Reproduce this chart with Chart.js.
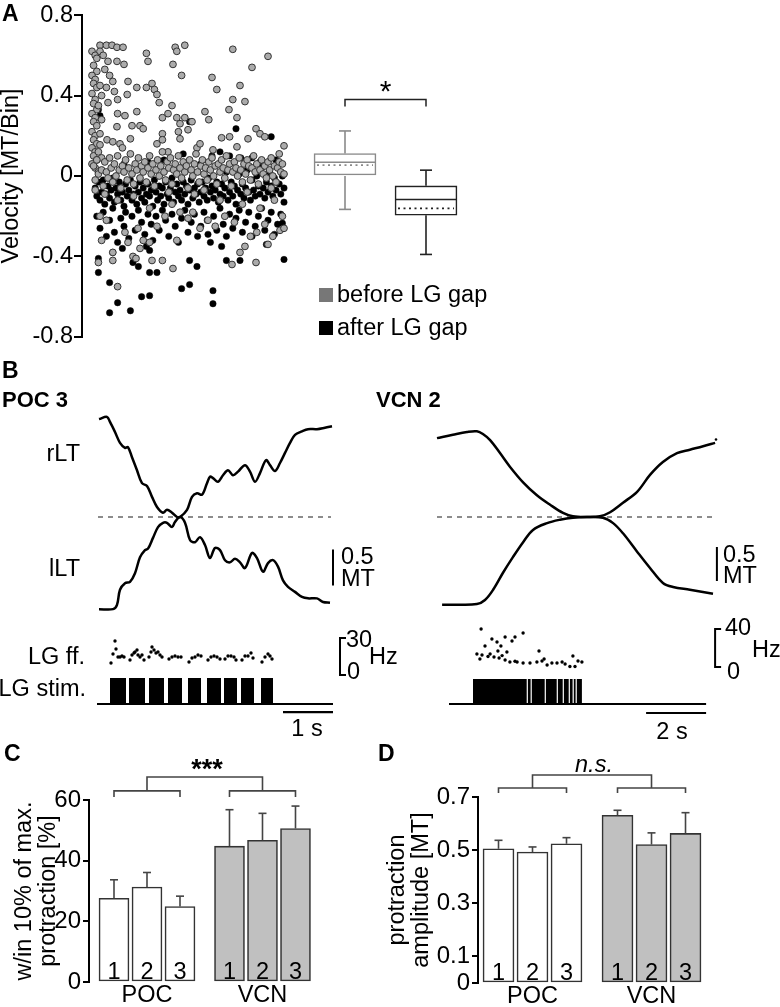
<!DOCTYPE html>
<html><head><meta charset="utf-8">
<script src="https://cdn.jsdelivr.net/npm/chart.js@4.4.1/dist/chart.umd.min.js"></script>
<style>
html,body{margin:0;padding:0;background:#fff;}
#wrap{position:relative;width:780px;height:1007px;overflow:hidden;font-family:"Liberation Sans",Arial,Helvetica,sans-serif;color:#000;background:#fff;}
canvas{position:absolute;}
.t{position:absolute;line-height:1;white-space:nowrap;font-size:23.5px;}
.sq{position:absolute;width:14px;height:14px;}
</style></head><body><div id="wrap">
<canvas id="cA" width="780" height="352" style="left:0px;top:0px"></canvas>
<canvas id="cBL" width="390" height="340" style="left:0px;top:395px"></canvas>
<canvas id="cBR" width="390" height="340" style="left:390px;top:395px"></canvas>
<canvas id="cC" width="380" height="267" style="left:0px;top:740px"></canvas>
<canvas id="cD" width="402" height="267" style="left:378px;top:740px"></canvas>
</div>
<script>
// ================= DATA =================
// Panel A: velocity per bin [bin, MT/Bin]
const legendLabels = ['before LG gap', 'after LG gap'];
const velocityTicks = [-0.8, -0.4, 0, 0.4, 0.8];
const beforeGap = [
[0,0.62],[2,0.60],[1,0.55],[3,0.52],[0,0.50],[2,0.48],[1,0.46],[3,0.44],[0,0.41],[2,0.38],[1,0.36],[3,0.33],[0,0.31],[2,0.29],[1,0.27],[3,0.25],[0,0.22],[2,0.20],[1,0.18],[3,0.16],[0,0.14],[2,0.12],[1,0.10],[3,0.08],[0,0.06],[2,0.04],[4,0.02],[5,0.45],[6,0.40],[4,0.35],[6,0.28],[5,0.21],[4,0.12],[6,0.09],
[5,0.65],[9,0.65],[12.5,0.65],[15.6,0.64],[19.4,0.64],[5,0.62],[3,0.585],[10,0.57],[15.6,0.57],[20,0.555],[7,0.60],[8,0.53],[11,0.50],[13,0.47],[9,0.44],[14,0.42],
[34,0.61],[35,0.57],[52,0.64],[53,0.62],[58,0.65],[50.6,0.555],[56,0.50],[88,0.63],[110,0.595],[100,0.54],[75,0.49],[92.5,0.45],[78,0.43],[88,0.38],[95.6,0.37],[85.6,0.33],[70.6,0.32],[73,0.28],[90.6,0.29],[102.5,0.235],[105,0.21],[108,0.195],[120,0.15],[117,0.11],[97.5,0.185],[86,0.195],[81,0.19],[75.6,0.13],[90.6,0.145],
[22.5,0.47],[28,0.44],[34,0.44],[37.5,0.46],[39,0.43],[40.6,0.405],[42,0.365],[50,0.35],[44,0.29],[47.5,0.31],[53,0.29],[58,0.29],[55,0.26],[62.5,0.27],[54,0.22],[55,0.185],[60,0.23],[44,0.21],[22,0.405],[16,0.38],[10,0.365],[16,0.31],[20.6,0.30],[28,0.32],[30,0.25],[25,0.25],[32,0.235],[24,0.185],[15.6,0.245],[9.4,0.18],[13,0.17],[17.5,0.16],[19,0.14],[5,0.155],[40.6,0.16],[47.5,0.12],[44,0.18],[65.6,0.14],[67.5,0.16],
[1,0.05],[2,-0.02],[3,0.08],[4,0.01],[6,0.03],[7,-0.05],[8,0.07],[9,0.02],[10,-0.01],[11,0.09],[12,0.04],[13,-0.03],[14,0.06],[15,0.00],[16,0.10],[17,0.03],[18,-0.06],[19,0.05],[20,0.02],[21,0.08],[22,-0.02],[23,0.04],[24,0.11],[25,0.01],[26,-0.04],[27,0.06],[28,0.03],[29,0.09],[30,-0.01],[31,0.05],[32,0.02],[33,0.07],[34,-0.03],[35,0.04],[36,0.10],[37,0.01],[38,0.06],[39,-0.05],[40,0.03],[41,0.08],[42,0.00],[43,0.05],[44,0.12],[45,0.02],[46,-0.02],[47,0.07],[48,0.04],[49,0.09],[50,-0.04],[51,0.03],[52,0.06],[53,0.01],[54,0.10],[55,0.04],[56,-0.01],[57,0.07],[58,0.02],[59,0.05],[60,-0.06],[61,0.08],[62,0.03],[63,0.00],[64,0.06],[65,0.11],[66,0.02],[67,-0.03],[68,0.05],[69,0.08],[70,0.01],[71,0.04],[72,-0.02],[73,0.07],[74,0.03],[75,0.09],[76,0.00],[77,0.05],[78,-0.04],[79,0.06],[80,0.02],[81,0.08],[82,0.04],[83,-0.01],[84,0.10],[85,0.03],[86,0.06],[87,-0.05],[88,0.02],[89,0.07],[90,0.04],[91,0.00],[92,0.09],[93,0.03],[94,-0.03],[95,0.06],[96,0.01],[97,0.08],[98,0.05],[99,-0.02],[100,0.04],[101,0.10],[102,0.02],[103,0.06],[104,-0.04],[105,0.03],[106,0.08],[107,0.01],[108,0.05],[109,-0.01],[110,0.07],[111,0.03],[112,0.09],[113,0.00],[114,0.05],[115,-0.03],[116,0.04],[117,0.07],[118,0.02],[119,0.06],[120,0.01],
[4,-0.43],[13,-0.42],[16,-0.55],[25.6,-0.40],[27.5,-0.41],[32,-0.32],[36,-0.33],[37.5,-0.42],[44,-0.42],[50.6,-0.46],[53,-0.32],[63,-0.18],[87.5,-0.44],[92.5,-0.38],[95.6,-0.35],[102.5,-0.43],[110,-0.34],[113,-0.30],[117.5,-0.27],[120,-0.26],[103,-0.28],[5,-0.20],[9,-0.22],[16,-0.12],[20.6,-0.28],[28.75,-0.26],[36,-0.16],[40.6,-0.25],[45.6,-0.20],[50,-0.14],[55,-0.18],[60,-0.21],[64,-0.09],[67.5,-0.26],[72.5,-0.22],[77,-0.25],[80,-0.12],[83,-0.20],[89,-0.23],[94,-0.14],[99,-0.30],[105,-0.16],[108,-0.24],[114,-0.12],[119,-0.20],[13,-0.38],[22.5,-0.33],[30,-0.36],[6,-0.32],[2,-0.07],[8,-0.09],[26,-0.10],[48,-0.08],[70,-0.07],[97,-0.08],[112,-0.06]
];
const afterGap = [
[2,-0.06],[3,-0.10],[4,-0.03],[5,-0.12],[6,-0.08],[7,-0.02],[8,-0.14],[9,-0.09],[10,-0.05],[11,-0.11],[12,-0.07],[13,-0.01],[14,-0.13],[15,-0.06],[16,-0.09],[17,-0.03],[18,-0.12],[19,-0.08],[20,-0.15],[21,-0.04],[22,-0.10],[23,-0.07],[24,-0.02],[25,-0.12],[26,-0.09],[27,-0.05],[28,-0.14],[29,-0.08],[30,-0.03],[31,-0.11],[32,-0.06],[33,-0.13],[34,-0.09],[35,-0.04],[36,-0.10],[37,-0.07],[38,-0.15],[39,-0.02],[40,-0.08],[41,-0.12],[42,-0.05],[43,-0.10],[44,-0.06],[45,-0.14],[46,-0.03],[47,-0.09],[48,-0.11],[49,-0.06],[50,-0.01],[51,-0.13],[52,-0.08],[53,-0.04],[54,-0.10],[55,-0.07],[56,-0.12],[57,-0.03],[58,-0.09],[59,-0.05],[60,-0.14],[61,-0.07],[62,-0.02],[63,-0.11],[64,-0.06],[65,-0.09],[66,-0.04],[67,-0.13],[68,-0.08],[69,-0.03],[70,-0.10],[71,-0.06],[72,-0.12],[73,-0.01],[74,-0.08],[75,-0.05],[76,-0.11],[77,-0.07],[78,-0.03],[79,-0.13],[80,-0.09],[81,-0.04],[82,-0.10],[83,-0.06],[84,0.02],[85,-0.12],[86,-0.08],[87,-0.03],[88,-0.10],[89,-0.05],[90,-0.14],[91,-0.07],[92,0.01],[93,-0.09],[94,-0.04],[95,-0.11],[96,-0.06],[97,0.03],[98,-0.08],[99,-0.12],[100,-0.02],[101,-0.07],[102,-0.10],[103,0.00],[104,-0.05],[105,-0.09],[106,0.04],[107,-0.06],[108,-0.11],[109,-0.03],[110,-0.08],[111,0.02],[112,-0.05],[113,-0.10],[114,-0.01],[115,-0.07],[116,0.05],[117,-0.04],[118,-0.09],[119,0.00],[120,-0.06],
[3,-0.20],[5,-0.26],[7,-0.18],[9,-0.30],[11,-0.22],[13,-0.16],[14,-0.28],[16,-0.33],[18,-0.21],[20,-0.25],[21,-0.18],[23,-0.31],[25,-0.20],[27,-0.27],[29,-0.17],[31,-0.23],[33,-0.29],[35,-0.19],[37,-0.24],[38,-0.32],[40,-0.20],[42,-0.27],[44,-0.17],[46,-0.22],[48,-0.30],[50,-0.19],[52,-0.25],[54,-0.33],[56,-0.21],[58,-0.17],[60,-0.28],[62,-0.23],[64,-0.19],[66,-0.30],[68,-0.25],[70,-0.18],[72,-0.22],[74,-0.33],[76,-0.20],[78,-0.27],[80,-0.16],[82,-0.24],[84,-0.30],[86,-0.19],[88,-0.26],[90,-0.21],[92,-0.17],[94,-0.28],[96,-0.23],[98,-0.18],[100,-0.30],[102,-0.25],[104,-0.20],[106,-0.16],[108,-0.27],[110,-0.22],[112,-0.18],[114,-0.29],[116,-0.24],[118,-0.19],[120,-0.13],
[11,-0.68],[16,-0.63],[24,-0.67],[31,-0.60],[36,-0.595],[11,-0.53],[56,-0.56],[61,-0.54],[75.6,-0.57],[75.6,-0.635],[4,-0.48],[4,-0.41],[13,-0.38],[19,-0.36],[25.6,-0.43],[29,-0.45],[36,-0.48],[40.6,-0.48],[34,-0.35],[36,-0.37],[65.6,-0.45],[61,-0.42],[84,-0.42],[92.5,-0.42],[120,-0.415],[109,-0.34],[119,-0.235],[72.5,-0.29],[81,-0.35],
[4,0.33],[5,0.30],[61,0.27],[90,0.235],[112,0.195],[80,0.12],[86,0.10],[93,0.09],[57,0.11],[35,0.07],[20,0.06],[45,0.08],[100,0.09],[68,0.06],[75,0.10],[105,0.07],[115,0.08]
];
// Panel A box plots: before / after
const boxPos = [1, 2];
const boxLow = [-0.166, -0.39];
const boxQ1 = [0.0, -0.195];
const boxMedian = [0.068, -0.117];
const boxMean = [0.054, -0.161];
const boxQ3 = [0.112, -0.049];
const boxHigh = [0.224, 0.029];

// Panel B, POC 3 (time s, position MT relative to midline; LG ff in Hz)
const pocRLT = [[0.02,1.36],[0.18,1.39],[0.24,1.32],[0.34,1.18],[0.44,1.03],[0.54,0.96],[0.60,0.97],[0.68,0.83],[0.78,0.65],[0.88,0.47],[0.98,0.43],[1.08,0.28],[1.18,0.14],[1.30,0.06],[1.38,0.10],[1.48,0.06],[1.58,0.00],[1.64,0.00],[1.78,0.10],[1.88,0.28],[1.98,0.33],[2.08,0.31],[2.18,0.47],[2.24,0.56],[2.30,0.54],[2.40,0.49],[2.50,0.58],[2.60,0.65],[2.70,0.58],[2.80,0.63],[2.94,0.72],[3.04,0.63],[3.14,0.49],[3.24,0.61],[3.36,0.79],[3.44,0.72],[3.54,0.64],[3.64,0.75],[3.74,0.89],[3.84,1.03],[3.94,1.14],[4.08,1.19],[4.20,1.22],[4.38,1.22],[4.54,1.24],[4.68,1.26]];
const pocLLT = [[0.02,-1.28],[0.30,-1.28],[0.38,-1.22],[0.44,-1.01],[0.54,-0.92],[0.64,-0.90],[0.74,-0.78],[0.84,-0.56],[0.94,-0.46],[1.00,-0.44],[1.10,-0.29],[1.20,-0.14],[1.30,-0.08],[1.38,-0.08],[1.48,-0.14],[1.54,-0.07],[1.64,0.00],[1.74,-0.08],[1.84,-0.32],[1.94,-0.35],[2.04,-0.28],[2.14,-0.39],[2.24,-0.57],[2.34,-0.43],[2.44,-0.46],[2.54,-0.60],[2.64,-0.63],[2.74,-0.58],[2.84,-0.63],[2.94,-0.71],[3.08,-0.50],[3.18,-0.57],[3.30,-0.76],[3.40,-0.64],[3.50,-0.60],[3.60,-0.69],[3.70,-0.88],[3.80,-0.97],[3.94,-1.04],[4.08,-1.11],[4.20,-1.13],[4.38,-1.13],[4.50,-1.18],[4.64,-1.19]];
const pocMidline = [0, 4.66];
const pocStimBaseline = [-0.02, 4.70];
const pocStimOn  = [0.24, 0.62, 1.02, 1.40, 1.80, 2.18, 2.52, 2.86, 3.26];
const pocStimOff = [0.56, 0.94, 1.32, 1.68, 2.06, 2.46, 2.78, 3.12, 3.50];
const pocLGff = [[0.26,9.7],[0.30,17.0],[0.34,27.6],[0.36,21.1],[0.40,14.6],[0.44,14.6],[0.48,15.4],[0.52,14.6],
[0.64,12.2],[0.68,16.2],[0.72,17.8],[0.74,18.6],[0.78,20.3],[0.80,16.2],[0.84,14.6],[0.88,16.2],[0.92,12.2],
[1.02,14.6],[1.06,18.6],[1.08,22.7],[1.12,20.3],[1.16,17.8],[1.20,18.6],[1.24,16.2],[1.28,14.6],
[1.42,13.0],[1.48,14.6],[1.54,15.4],[1.60,14.6],[1.66,14.6],
[1.82,10.5],[1.88,13.8],[1.94,14.6],[2.00,16.2],[2.06,15.4],
[2.20,12.2],[2.26,14.6],[2.32,15.4],[2.38,14.6],[2.44,13.0],
[2.54,13.0],[2.60,15.4],[2.66,15.4],[2.72,14.6],[2.76,12.2],
[2.88,12.2],[2.94,15.4],[3.00,15.4],[3.06,17.8],[3.10,13.8],
[3.28,10.5],[3.34,14.6],[3.40,17.0],[3.44,15.4],[3.48,13.0]];

// Panel B, VCN 2
const vcnRLT = [[0,1.16],[0.53,1.21],[1.0,1.25],[1.33,1.26],[1.53,1.22],[1.77,1.13],[2.1,0.94],[2.43,0.74],[2.87,0.51],[3.33,0.32],[3.77,0.18],[4.2,0.06],[4.53,0.01],[5.0,0.0],[5.43,0.01],[5.77,0.07],[6.2,0.21],[6.67,0.37],[7.1,0.62],[7.53,0.81],[8.0,0.94],[8.43,0.99],[8.87,1.04],[9.27,1.09]];
const vcnLLT = [[0.17,-1.29],[0.67,-1.29],[1.33,-1.28],[1.6,-1.22],[1.87,-1.07],[2.2,-0.82],[2.53,-0.59],[2.87,-0.37],[3.2,-0.19],[3.67,-0.09],[4.1,-0.04],[4.53,-0.01],[5.0,0.0],[5.53,-0.01],[5.87,-0.09],[6.2,-0.24],[6.67,-0.51],[7.1,-0.75],[7.53,-0.97],[7.87,-1.03],[8.43,-1.07],[9.2,-1.13]];
const vcnEndDot = [[9.3,1.14]];
const vcnMidline = [0, 9.33];
const vcnStimBaseline = [0.4, 8.97];
const vcnStimOn  = [1.20, 3.03, 3.16, 3.63, 4.03, 4.23, 4.43, 4.56, 4.66];
const vcnStimOff = [2.99, 3.12, 3.59, 3.99, 4.19, 4.39, 4.52, 4.62, 4.83];
const vcnLGff = [[1.47,40.0],[2.87,35.8],[2.27,31.6],[2.6,31.6],[1.83,29.5],[2.5,27.4],[2.0,26.3],[1.6,22.1],[2.13,22.1],[3.4,16.8],[2.03,16.8],[2.33,15.8],[1.33,13.7],[1.5,12.6],[1.77,13.7],[1.9,10.5],[2.07,9.5],[1.43,8.4],[2.27,7.4],[4.53,11.6],[3.57,8.4],[2.43,5.3],[2.67,5.3],[2.87,4.2],[3.1,4.2],[3.33,5.3],[3.5,6.3],[3.67,2.1],[3.83,4.2],[4.0,4.2],[4.17,5.3],[4.27,3.2],[4.43,0.5],[4.6,0.5],[4.7,6.3],[4.83,5.3],[1.7,11.0],[2.17,12.0],[2.6,6.0]];

// Scale bars
const scaleMT = 0.5, scaleHzPOC = 30, scaleHzVCN = 40, scaleSecPOC = 1, scaleSecVCN = 2;

// Panels C and D
const groupLabels = ['POC', 'VCN'];
const barLabels = ['1', '2', '3', '1', '2', '3'];
const barPos = [1, 2, 3, 4.5, 5.5, 6.5];
const cValues = [27.6, 31.3, 24.9, 44.8, 46.7, 50.6];
const cErrors = [6.1, 4.8, 3.4, 12.0, 8.9, 7.4];
const cTicks = [0, 20, 40, 60];
const dValues = [0.505, 0.493, 0.524, 0.631, 0.521, 0.563];
const dErrors = [0.032, 0.019, 0.023, 0.019, 0.044, 0.078];
const dTicks = [0, 0.1, 0.3, 0.5, 0.7];

// ================= RENDER =================
const FS = 23.5;
Chart.defaults.font.family = '"Liberation Sans", Arial, Helvetica, sans-serif';
Chart.defaults.color = '#000';
const wrap = document.getElementById('wrap');
function txt(s, x, y, o = {}) {
  const d = document.createElement('div');
  d.className = 't';
  d.textContent = s;
  d.style.left = x + 'px';
  d.style.top = y + 'px';
  d.style.fontSize = (o.size || FS) + 'px';
  if (o.bold) d.style.fontWeight = 'bold';
  if (o.italic) d.style.fontStyle = 'italic';
  if (o.align === 'center') d.style.transform = 'translateX(-50%)';
  if (o.align === 'right') d.style.transform = 'translateX(-100%)';
  wrap.appendChild(d);
  return d;
}
const pts = a => a.map(([x, y]) => ({x, y}));
function line(ctx, x1, y1, x2, y2) { ctx.beginPath(); ctx.moveTo(x1, y1); ctx.lineTo(x2, y2); ctx.stroke(); }
const fmt = v => Math.abs(v) < 1e-9 ? '0' : (Math.round(v * 10) / 10).toFixed(1);

function yAxis(min, max, width, size, tickLen, title, titlePad, extra) {
  return Object.assign({
    min, max, afterFit(s) { s.width = width; },
    ticks: {font: {size}, color: '#000', padding: 1, autoSkip: false, callback: fmt},
    grid: {display: true, drawOnChartArea: false, drawTicks: true, tickLength: tickLen, color: '#000', lineWidth: 2, tickColor: '#000'},
    border: {display: true, color: '#000', width: 2},
    title: {display: true, text: title, font: {size: FS, lineHeight: 1.0}, color: '#000', padding: {top: titlePad, bottom: 0}}
  }, extra || {});
}

// ---------- Panel A ----------
const boxColors = ['#8a8a8a', '#222'];
const boxPlugin = {
  id: 'boxExtras',
  afterDatasetsDraw(chart) {
    const {ctx, scales: {y}} = chart;
    const meta = chart.getDatasetMeta(2);
    ctx.save();
    boxPos.forEach((p, i) => {
      const el = meta.data[i];
      const cx = el.x;
      const half = el.width / 2;
      ctx.strokeStyle = boxColors[i];
      ctx.lineWidth = 1.6;
      const yq1 = y.getPixelForValue(boxQ1[i]), yq3 = y.getPixelForValue(boxQ3[i]);
      const ylo = y.getPixelForValue(boxLow[i]), yhi = y.getPixelForValue(boxHigh[i]);
      line(ctx, cx, yq3, cx, yhi); line(ctx, cx - 6, yhi, cx + 6, yhi);
      line(ctx, cx, yq1, cx, ylo); line(ctx, cx - 6, ylo, cx + 6, ylo);
      const ym = y.getPixelForValue(boxMedian[i]);
      line(ctx, cx - half, ym, cx + half, ym);
      ctx.setLineDash([2, 3.5]);
      const ymean = y.getPixelForValue(boxMean[i]);
      line(ctx, cx - half + 3, ymean, cx + half - 3, ymean);
      ctx.setLineDash([]);
    });
    // significance bracket
    const x1 = meta.data[0].x, x2 = meta.data[1].x;
    const yt = y.getPixelForValue(0.38), yb = y.getPixelForValue(0.345);
    ctx.strokeStyle = '#222'; ctx.lineWidth = 1.5;
    ctx.beginPath(); ctx.moveTo(x1, yb); ctx.lineTo(x1, yt); ctx.lineTo(x2, yt); ctx.lineTo(x2, yb); ctx.stroke();
    ctx.restore();
  }
};
new Chart(document.getElementById('cA'), {
  type: 'scatter',
  data: {datasets: [
    {label: legendLabels[0], data: pts(beforeGap), xAxisID: 'x', yAxisID: 'y', pointRadius: 3.4, pointBackgroundColor: '#ababab', pointBorderColor: '#333', pointBorderWidth: 1},
    {label: legendLabels[1], data: pts(afterGap), xAxisID: 'x', yAxisID: 'y', pointRadius: 3.2, pointBackgroundColor: '#000', pointBorderColor: '#000', pointBorderWidth: 0.5},
    {type: 'bar', label: 'box', data: boxPos.map((p, i) => ({x: p, y: [boxQ1[i], boxQ3[i]]})), xAxisID: 'xBox', yAxisID: 'y', backgroundColor: '#fff', borderColor: boxColors, borderWidth: 1.6, borderSkipped: false, grouped: false, barThickness: 62, maxBarThickness: 62}
  ]},
  options: {
    responsive: false, animation: false, events: [],
    layout: {padding: {top: 13, bottom: 14, left: 0, right: 10}, autoPadding: false},
    plugins: {legend: {display: false}, tooltip: {enabled: false}},
    scales: {
      x: {type: 'linear', display: false, min: -6.25, max: 423.75, offset: false},
      xBox: {type: 'linear', display: false, min: -2.247, max: 6.247, offset: false},
      y: yAxis(-0.8, 0.8, 82, FS, 8, 'Velocity [MT/Bin]', 0, {
        afterBuildTicks(s) { s.ticks = velocityTicks.map(v => ({value: v})); }
      })
    }
  },
  plugins: [boxPlugin]
});

// ---------- Panel B ----------
function traceChart(id, d) {
  const step = [{x: d.base[0], y: 0}];
  d.on.forEach((t, i) => { step.push({x: t, y: 1}, {x: d.off[i], y: 0}); });
  step.push({x: d.base[1], y: 0});
  const L = d.lay;
  const ds = [
    {data: pts(d.r), yAxisID: 'y', borderColor: '#000', borderWidth: 2.5, pointRadius: 0, tension: 0.35},
    {data: pts(d.l), yAxisID: 'y', borderColor: '#000', borderWidth: 2.5, pointRadius: 0, tension: 0.35},
    {data: d.mid.map(x => ({x, y: 0})), yAxisID: 'y', borderColor: '#8c8c8c', borderWidth: 2, borderDash: [5, 5], pointRadius: 0},
    {data: step, yAxisID: 'yStim', stepped: true, fill: {value: 0}, backgroundColor: '#000', borderColor: 'rgba(0,0,0,0)', borderWidth: 0, pointRadius: 0},
    {data: d.base.map(x => ({x, y: 0})), yAxisID: 'yStim', borderColor: '#000', borderWidth: 2, pointRadius: 0},
    {data: pts(d.ff), yAxisID: 'yHz', showLine: false, pointRadius: 1.7, pointBackgroundColor: '#000', pointBorderWidth: 0},
    // scale bars
    {data: [{x: L.mtX, y: L.mtTop}, {x: L.mtX, y: L.mtTop - scaleMT}], yAxisID: 'y', borderColor: '#000', borderWidth: 2, pointRadius: 0},
    {data: [{x: L.sEnd - d.sec, y: L.sY}, {x: L.sEnd, y: L.sY}], yAxisID: 'yStim', borderColor: '#000', borderWidth: 2.2, pointRadius: 0},
    {data: [{x: L.hzX + L.hzTick, y: d.hz}, {x: L.hzX, y: d.hz}, {x: L.hzX, y: 0}, {x: L.hzX + L.hzTick, y: 0}], yAxisID: 'yHz', borderColor: '#000', borderWidth: 2, pointRadius: 0}
  ];
  if (d.dot) ds.push({data: pts(d.dot), yAxisID: 'y', showLine: false, pointRadius: 1.3, pointBackgroundColor: '#000', pointBorderWidth: 0});
  return new Chart(document.getElementById(id), {
    type: 'line',
    data: {datasets: ds},
    options: {
      responsive: false, animation: false, events: [],
      layout: {padding: 0, autoPadding: false},
      plugins: {legend: {display: false}, tooltip: {enabled: false}},
      scales: {
        x: {type: 'linear', display: false, min: L.xMin, max: L.xMax},
        y: {display: false, min: L.yMin, max: L.yMax},
        yHz: {display: false, min: L.hzMin, max: L.hzMax},
        yStim: {display: false, min: L.stMin, max: L.stMax}
      }
    }
  });
}
traceChart('cBL', {r: pocRLT, l: pocLLT, mid: pocMidline, base: pocStimBaseline, on: pocStimOn, off: pocStimOff, ff: pocLGff, hz: scaleHzPOC, sec: scaleSecPOC,
  lay: {xMin: -1.96, xMax: 5.84, yMin: -3.0278, yMax: 1.6944, hzMin: -48.65, hzMax: 227.03, stMin: -1.192, stMax: 11.885,
        mtX: 4.70, mtTop: -0.45, sEnd: 4.70, sY: -0.31, hzX: 4.84, hzTick: 0.12}});
traceChart('cBR', {r: vcnRLT, l: vcnLLT, mid: vcnMidline, base: vcnStimBaseline, on: vcnStimOn, off: vcnStimOff, ff: vcnLGff, hz: scaleHzVCN, sec: scaleSecVCN, dot: vcnEndDot,
  lay: {xMin: -1.5667, xMax: 11.4333, yMin: -3.206, yMax: 1.794, hzMin: -71.58, hzMax: 286.3, stMin: -1.24, stMax: 12.36,
        mtX: 9.33, mtTop: -0.44, sEnd: 8.97, sY: -0.36, hzX: 9.27, hzTick: 0.2}});

// ---------- Panels C & D ----------
const errPlugin = {
  id: 'errs',
  afterDatasetsDraw(chart, args, o) {
    const {ctx, scales: {x, y}} = chart;
    ctx.save();
    ctx.strokeStyle = '#444'; ctx.lineWidth = 1.6;
    o.values.forEach((v, i) => {
      const cx = x.getPixelForValue(barPos[i]);
      const y1 = y.getPixelForValue(v), y2 = y.getPixelForValue(v + o.errors[i]);
      line(ctx, cx, y1, cx, y2); line(ctx, cx - 4, y2, cx + 4, y2);
    });
    // brackets
    const groups = [[barPos[0], barPos[2]], [barPos[3], barPos[5]]];
    const ys = y.getPixelForValue(o.sub), yk = y.getPixelForValue(o.subTick), ytop = y.getPixelForValue(o.top);
    const centers = [];
    groups.forEach(([a, b]) => {
      const xa = x.getPixelForValue(a), xb = x.getPixelForValue(b);
      ctx.beginPath(); ctx.moveTo(xa, yk); ctx.lineTo(xa, ys); ctx.lineTo(xb, ys); ctx.lineTo(xb, yk); ctx.stroke();
      centers.push(x.getPixelForValue((a + b) / 2));
    });
    ctx.beginPath(); ctx.moveTo(centers[0], ys); ctx.lineTo(centers[0], ytop); ctx.lineTo(centers[1], ytop); ctx.lineTo(centers[1], ys); ctx.stroke();
    ctx.restore();
  }
};
function barChart(id, c) {
  return new Chart(document.getElementById(id), {
    type: 'bar',
    data: {labels: barLabels, datasets: [{
      data: barPos.map((p, i) => ({x: p, y: c.values[i]})),
      backgroundColor: barPos.map((p, i) => i < 3 ? '#ffffff' : '#c0c0c0'),
      borderColor: '#333', borderWidth: 1.6, borderSkipped: false, barThickness: c.barW
    }]},
    options: {
      responsive: false, animation: false, events: [],
      layout: {padding: {top: c.padTop, bottom: c.padBottom, left: 0, right: 0}, autoPadding: false},
      plugins: {legend: {display: false}, tooltip: {enabled: false},
        errs: {values: c.values, errors: c.errors, sub: c.sub, subTick: c.subTick, top: c.top}},
      scales: {
        x: {type: 'linear', display: false, min: c.xMin, max: c.xMax, offset: false, grid: {offset: false}},
        y: yAxis(0, c.max, c.axisW, 24, 6, c.title, c.titlePad, {
          afterBuildTicks(s) { s.ticks = c.ticks.map(v => ({value: v})); },
          ticks: {font: {size: 24}, color: '#000', padding: 2, autoSkip: false, callback: c.fmt}
        })
      }
    },
    plugins: [errPlugin]
  });
}
const chC = barChart('cC', {values: cValues, errors: cErrors, ticks: cTicks, max: 60, barW: 30, padTop: 60, padBottom: 25,
  xMin: 0.2424, xMax: 9.061, axisW: 89, title: ['w/in 10% of max.', 'protraction [%]'], titlePad: 13,
  sub: 63.0, subTick: 61.0, top: 67.6, fmt: v => String(v)});
const chD = barChart('cD', {values: dValues, errors: dErrors, ticks: dTicks, max: 0.7, barW: 31, padTop: 57, padBottom: 24,
  xMin: 0.397, xMax: 9.279, axisW: 100, title: ['protraction', 'amplitude [MT]'], titlePad: 8,
  sub: 0.734, subTick: 0.715, top: 0.783, fmt: fmt});

// bar numbers and group labels placed from the chart scales
[[chC, 0, 740], [chD, 378, 740]].forEach(([ch, ox, oy]) => {
  const x = ch.scales.x, y = ch.scales.y;
  const y0 = oy + y.getPixelForValue(0);
  barPos.forEach((p, i) => txt(barLabels[i], ox + x.getPixelForValue(p), y0 - 2 - 0.847 * 23.5, {align: 'center'}));
  txt(groupLabels[0], ox + x.getPixelForValue((barPos[0] + barPos[2]) / 2), y0 + 1, {align: 'center'});
  txt(groupLabels[1], ox + x.getPixelForValue((barPos[3] + barPos[5]) / 2), y0 + 1, {align: 'center'});
});

// ---------- static labels ----------
txt('A', 2, 2, {bold: true, size: 23});
txt('*', 385.5, 76, {size: 30, align: 'center'});
[['#777', 0], ['#000', 1]].forEach(([col, i]) => {
  const s = document.createElement('div');
  s.className = 'sq'; s.style.background = col; s.style.left = '319px'; s.style.top = (288 + i * 33) + 'px';
  wrap.appendChild(s);
  txt(legendLabels[i], 337, 283 + i * 33);
});
txt('B', 2, 359, {bold: true, size: 23});
txt('POC 3', 2, 389, {bold: true, size: 22});
txt('VCN 2', 376, 389, {bold: true, size: 22});
txt('rLT', 80, 442, {align: 'right'});
txt('lLT', 80, 557, {align: 'right'});
txt('0.5', 341, 545); txt('MT', 341, 567);
txt('0.5', 723, 543); txt('MT', 723, 564);
txt('LG ff.', 85, 645, {align: 'right'});
txt('LG stim.', 86, 677, {align: 'right'});
txt('30', 346, 628); txt('0', 347, 660); txt('Hz', 369, 645);
txt('40', 725, 616); txt('0', 727, 660); txt('Hz', 752, 638);
txt('1 s', 307, 717, {align: 'center'});
txt('2 s', 672, 720, {align: 'center'});
txt('C', 4, 742, {bold: true, size: 23});
txt('***', 207, 756, {bold: true, size: 27, align: 'center'});
txt('D', 378, 742, {bold: true, size: 23});
txt('n.s.', 594, 753, {italic: true, align: 'center'});
</script>
</body></html>
